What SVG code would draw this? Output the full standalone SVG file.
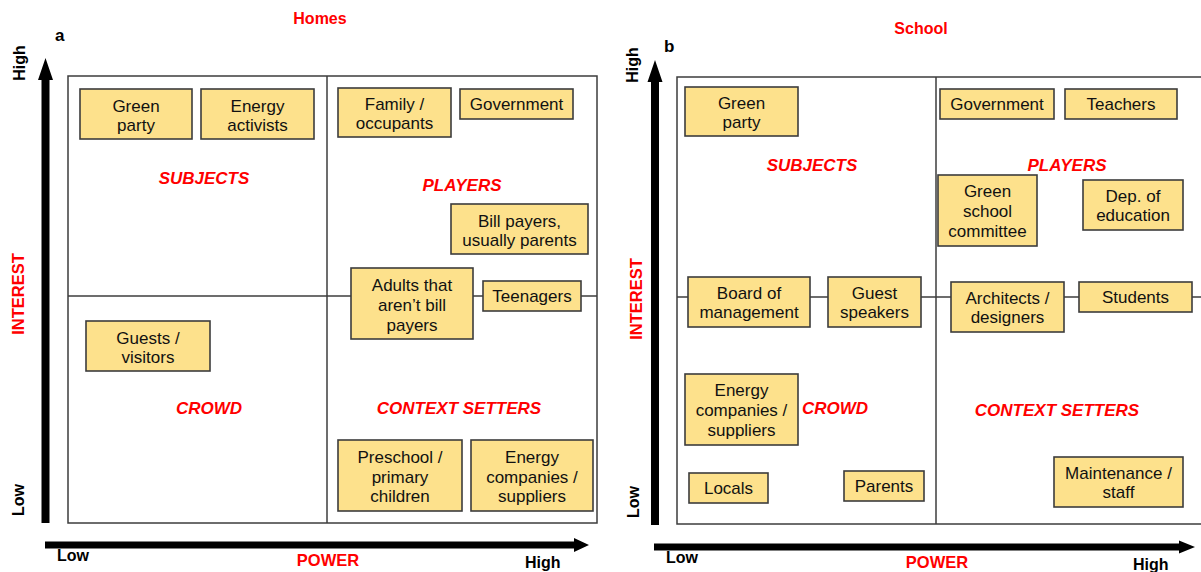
<svg xmlns="http://www.w3.org/2000/svg" width="1201" height="572" viewBox="0 0 1201 572">
<style>
text{font-family:"Liberation Sans",Arial,sans-serif}
.node rect{fill:#FDE18C;stroke:#3c3c3c;stroke-width:1.6}
.node text{font-size:17px;fill:#111;text-anchor:middle}
.frame{fill:none;stroke:#3c3c3c;stroke-width:1.5}
.q{font-size:17px;font-weight:bold;font-style:italic;fill:#FF0000;text-anchor:middle}
.title{font-size:16px;font-weight:bold;fill:#FF0000;text-anchor:middle}
.axis{font-size:16.5px;font-weight:bold;fill:#FF0000;text-anchor:middle}
.tick{font-size:16px;font-weight:bold;fill:#000}
.panel{font-size:17px;font-weight:bold;fill:#000}
.arrow{fill:#000}
</style>
<rect width="1201" height="572" fill="#fff"/>

<!-- Panel a -->
<g id="panel-a-frame">
<rect class="frame" x="68" y="76" width="529" height="447"/>
<line class="frame" x1="327" y1="76" x2="327" y2="523"/>
<line class="frame" x1="68" y1="296" x2="597" y2="296"/>
</g>
<g id="panel-a-axes">
<polygon class="arrow" points="41.5,523 41.5,80 38,80 45.5,58 53,80 49.5,80 49.5,523"/>
<polygon class="arrow" points="45,541.5 574,541.5 574,538 589,545 574,552 574,548.5 45,548.5"/>
</g>
<g id="panel-a-labels">
<text class="title" x="320" y="24">Homes</text>
<text class="panel" x="55" y="41">a</text>
<text class="tick" x="19" y="63" text-anchor="middle" dominant-baseline="central" transform="rotate(-90 19 63)">High</text>
<text class="axis" x="18" y="294" dominant-baseline="central" transform="rotate(-90 18 294)">INTEREST</text>
<text class="tick" x="18" y="500" text-anchor="middle" dominant-baseline="central" transform="rotate(-90 18 500)">Low</text>
<text class="tick" x="57" y="561">Low</text>
<text class="axis" x="328" y="566">POWER</text>
<text class="tick" x="525" y="568">High</text>
<text class="q" x="204" y="184">SUBJECTS</text>
<text class="q" x="462" y="191">PLAYERS</text>
<text class="q" x="209" y="414">CROWD</text>
<text class="q" x="459" y="414">CONTEXT SETTERS</text>
</g>

<g id="a-green-party" class="node"><rect x="80" y="89" width="112" height="50"/><text x="136" y="112">Green</text><text x="136" y="131">party</text></g>
<g id="a-energy-activists" class="node"><rect x="201" y="89" width="113" height="50"/><text x="257.5" y="112">Energy</text><text x="257.5" y="131">activists</text></g>
<g id="a-family" class="node"><rect x="338" y="88" width="113" height="49"/><text x="394.5" y="110">Family /</text><text x="394.5" y="129">occupants</text></g>
<g id="a-government" class="node"><rect x="460" y="89" width="113" height="30"/><text x="516.5" y="110">Government</text></g>
<g id="a-bill-payers" class="node"><rect x="451" y="204" width="137" height="50"/><text x="519.5" y="227">Bill payers,</text><text x="519.5" y="246">usually parents</text></g>
<g id="a-adults" class="node"><rect x="351" y="268" width="122" height="71"/><text x="412" y="291">Adults that</text><text x="412" y="311">aren’t bill</text><text x="412" y="331">payers</text></g>
<g id="a-teenagers" class="node"><rect x="483" y="281" width="98" height="30"/><text x="532" y="302">Teenagers</text></g>
<g id="a-guests" class="node"><rect x="86" y="321" width="124" height="50"/><text x="148" y="344">Guests /</text><text x="148" y="363">visitors</text></g>
<g id="a-preschool" class="node"><rect x="338" y="440" width="124" height="71"/><text x="400" y="463">Preschool /</text><text x="400" y="483">primary</text><text x="400" y="502">children</text></g>
<g id="a-energy-companies" class="node"><rect x="471" y="440" width="122" height="71"/><text x="532" y="463">Energy</text><text x="532" y="483">companies /</text><text x="532" y="502">suppliers</text></g>

<!-- Panel b -->
<g id="panel-b-frame">
<rect class="frame" x="677" y="77" width="540" height="447"/>
<line class="frame" x1="936" y1="77" x2="936" y2="524"/>
<line class="frame" x1="677" y1="297" x2="1201" y2="297"/>
</g>
<g id="panel-b-axes">
<polygon class="arrow" points="651,525 651,82 647.5,82 655,60 662.5,82 659,82 659,525"/>
<polygon class="arrow" points="654,543.5 1179,543.5 1179,540.5 1195,547 1179,553.5 1179,550.5 654,550.5"/>
</g>
<g id="panel-b-labels">
<text class="title" x="921" y="34">School</text>
<text class="panel" x="664" y="52">b</text>
<text class="tick" x="632" y="65" text-anchor="middle" dominant-baseline="central" transform="rotate(-90 632 65)">High</text>
<text class="axis" x="636" y="299" dominant-baseline="central" transform="rotate(-90 636 299)">INTEREST</text>
<text class="tick" x="633" y="502" text-anchor="middle" dominant-baseline="central" transform="rotate(-90 633 502)">Low</text>
<text class="tick" x="666" y="563">Low</text>
<text class="axis" x="937" y="568">POWER</text>
<text class="tick" x="1133" y="570">High</text>
<text class="q" x="812" y="171">SUBJECTS</text>
<text class="q" x="1067" y="171">PLAYERS</text>
<text class="q" x="835" y="414">CROWD</text>
<text class="q" x="1057" y="416">CONTEXT SETTERS</text>
</g>

<g id="b-green-party" class="node"><rect x="685" y="87" width="113" height="49"/><text x="741.5" y="109">Green</text><text x="741.5" y="128">party</text></g>
<g id="b-government" class="node"><rect x="940" y="89" width="114" height="30"/><text x="997" y="110">Government</text></g>
<g id="b-teachers" class="node"><rect x="1065" y="89" width="112" height="30"/><text x="1121" y="110">Teachers</text></g>
<g id="b-green-school" class="node"><rect x="938" y="175" width="99" height="71"/><text x="987.5" y="197">Green</text><text x="987.5" y="217">school</text><text x="987.5" y="237">committee</text></g>
<g id="b-dep-education" class="node"><rect x="1083" y="180" width="100" height="50"/><text x="1133" y="202">Dep. of</text><text x="1133" y="221">education</text></g>
<g id="b-board" class="node"><rect x="688" y="277" width="122" height="50"/><text x="749" y="299">Board of</text><text x="749" y="318">management</text></g>
<g id="b-guest-speakers" class="node"><rect x="828" y="277" width="93" height="50"/><text x="874.5" y="299">Guest</text><text x="874.5" y="318">speakers</text></g>
<g id="b-architects" class="node"><rect x="951" y="282" width="113" height="50"/><text x="1007.5" y="304">Architects /</text><text x="1007.5" y="323">designers</text></g>
<g id="b-students" class="node"><rect x="1079" y="282" width="113" height="30"/><text x="1135.5" y="303">Students</text></g>
<g id="b-energy-companies" class="node"><rect x="685" y="374" width="113" height="71"/><text x="741.5" y="396">Energy</text><text x="741.5" y="416">companies /</text><text x="741.5" y="436">suppliers</text></g>
<g id="b-locals" class="node"><rect x="689" y="473" width="79" height="30"/><text x="728.5" y="494">Locals</text></g>
<g id="b-parents" class="node"><rect x="844" y="471" width="80" height="30"/><text x="884" y="492">Parents</text></g>
<g id="b-maintenance" class="node"><rect x="1054" y="457" width="129" height="50"/><text x="1118.5" y="479">Maintenance /</text><text x="1118.5" y="498">staff</text></g>

<g id="connectors"></g>
</svg>
